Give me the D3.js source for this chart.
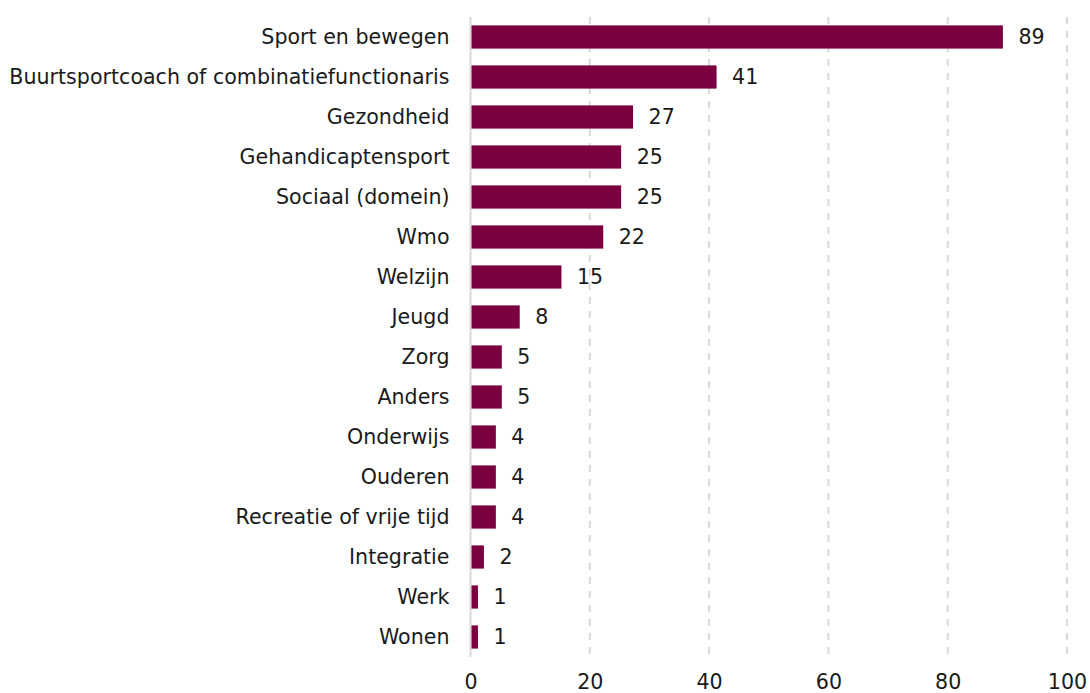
<!DOCTYPE html>
<html><head><meta charset="utf-8">
<script src="https://cdn.jsdelivr.net/npm/d3@7"></script>
<style>body{margin:0;background:#fff}svg text{font-family:"DejaVu Sans",sans-serif}</style>
</head><body><svg id="c" width="1090" height="693"></svg>
<script>
const categories=["Sport en bewegen","Buurtsportcoach of combinatiefunctionaris","Gezondheid","Gehandicaptensport","Sociaal (domein)","Wmo","Welzijn","Jeugd","Zorg","Anders","Onderwijs","Ouderen","Recreatie of vrije tijd","Integratie","Werk","Wonen"];
const values=[89,41,27,25,25,22,15,8,5,5,4,4,4,2,1,1];
const ticks=[0,20,40,60,80,100];
const svg=d3.select("#c");
const x=d3.scaleLinear().domain([0,100]).range([470.5,1067]);
const y=d3.scaleBand().domain(categories).range([17,657]).paddingInner(0.42).paddingOuter(0.21);
const fs=20.6;
svg.append("g").selectAll("line").data(ticks.slice(1)).join("line")
 .attr("x1",d=>x(d)).attr("x2",d=>x(d)).attr("y1",17).attr("y2",657)
 .attr("stroke","#d9d9d9").attr("stroke-width",2).attr("stroke-dasharray","7,7");
svg.append("line").attr("x1",x(0)).attr("x2",x(0)).attr("y1",17).attr("y2",657).attr("stroke","#d9d9d9").attr("stroke-width",2);
svg.append("g").selectAll("rect").data(values).join("rect")
 .attr("x",x(0)+1).attr("y",(d,i)=>y(categories[i])).attr("height",y.bandwidth())
 .attr("width",d=>x(d)-x(0)+0.5).attr("fill","#7b003f");
svg.append("g").selectAll("text").data(categories).join("text")
 .attr("x",x(0)-21).attr("y",d=>y(d)+y.bandwidth()/2).attr("dy","0.36em")
 .attr("text-anchor","end").attr("font-size",fs).attr("fill","#1a1a1a").text(d=>d);
svg.append("g").selectAll("text").data(values).join("text")
 .attr("x",d=>x(d)+17).attr("y",(d,i)=>y(categories[i])+y.bandwidth()/2).attr("dy","0.36em")
 .attr("font-size",fs).attr("fill","#1a1a1a").text(d=>d);
const ax=d3.axisBottom(x).tickValues(ticks).tickSize(0).tickPadding(0);
const g=svg.append("g").attr("transform","translate(0,672)").call(ax);
g.select(".domain").remove();
g.selectAll("text").attr("font-size",fs).attr("fill","#1a1a1a").attr("font-family","DejaVu Sans").attr("dy","0.84em");
</script></body></html>
